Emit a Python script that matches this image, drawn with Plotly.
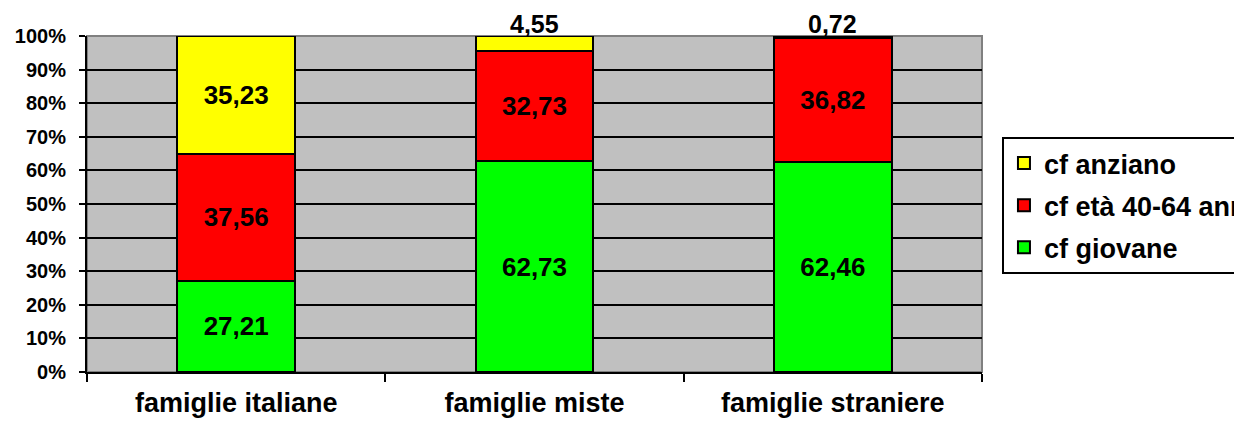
import plotly.graph_objects as go

categories = ["famiglie italiane", "famiglie miste", "famiglie straniere"]
giovane = [27.21, 62.73, 62.46]
eta_40_64 = [37.56, 32.73, 36.82]
anziano = [35.23, 4.55, 0.72]
series_names = ["cf giovane", "cf età 40-64 ann", "cf anziano"]
y_ticks = [0, 10, 20, 30, 40, 50, 60, 70, 80, 90, 100]

FONT = "Liberation Sans, Arial, sans-serif"
colors = ["#00FF00", "#FF0000", "#FFFF00"]
ranks = [3, 2, 1]

def fmt(v):
    return f"{v:.2f}".replace(".", ",")

fig = go.Figure()
all_series = [giovane, eta_40_64, anziano]
for name, vals, col, rk in zip(series_names, all_series, colors, ranks):
    fig.add_trace(go.Bar(
        x=categories, y=vals, name=name, legendgroup=name, legendrank=rk,
        marker=dict(color=col, line=dict(color="black", width=2)),
        text=[fmt(v) if v >= 10 else "" for v in vals],
        textposition="inside", insidetextanchor="middle",
        textfont=dict(family=FONT, size=26, color="black", weight="bold"),
        constraintext="none", cliponaxis=False,
    ))

annotations = []
for i, cat in enumerate(categories):
    v = anziano[i]
    if v < 10:
        total = min(giovane[i] + eta_40_64[i] + anziano[i], 100)
        annotations.append(dict(
            x=cat, y=total, xref="x", yref="y", text=fmt(v), showarrow=False,
            yanchor="bottom", yshift=-3, borderpad=0,
            font=dict(family=FONT, size=25, color="black", weight="bold"),
        ))

fig.update_layout(
    barmode="stack", bargap=0.605,
    width=1234, height=419,
    paper_bgcolor="white", plot_bgcolor="#C0C0C0",
    margin=dict(l=79, r=260, t=28, b=55, autoexpand=False),
    font=dict(family=FONT, color="black", size=20, weight="bold"),
    legend=dict(
        x=1.0223, y=1 - (137 - 36) / 336, xanchor="left", yanchor="top",
        bordercolor="black", borderwidth=2, bgcolor="white",
        traceorder="grouped", tracegroupgap=4,
        font=dict(family=FONT, size=27, weight="bold"),
        itemwidth=30,
    ),
    annotations=annotations,
    shapes=[dict(type="rect", xref="x domain", yref="y domain", x0=0, x1=1, y0=0, y1=1,
                 line=dict(color="#808080", width=2), layer="below")],
    showlegend=True,
)
fig.update_yaxes(
    range=[0, 100], tickvals=y_ticks, ticktext=[f"{t}%" for t in y_ticks],
    showgrid=True, gridcolor="black", gridwidth=2,
    showline=True, linecolor="black", linewidth=2,
    ticks="outside", ticklen=6, tickwidth=2, tickcolor="black",
    ticklabelstandoff=9, zeroline=False,
    tickfont=dict(family=FONT, size=20, weight="bold"),
)
fig.update_xaxes(
    showline=True, linecolor="black", linewidth=2,
    ticks="outside", tickson="boundaries", ticklen=8, tickwidth=2, tickcolor="black",
    ticklabelstandoff=6, showgrid=False,
    tickfont=dict(family=FONT, size=27, weight="bold"),
)

fig.write_html("out.html")
